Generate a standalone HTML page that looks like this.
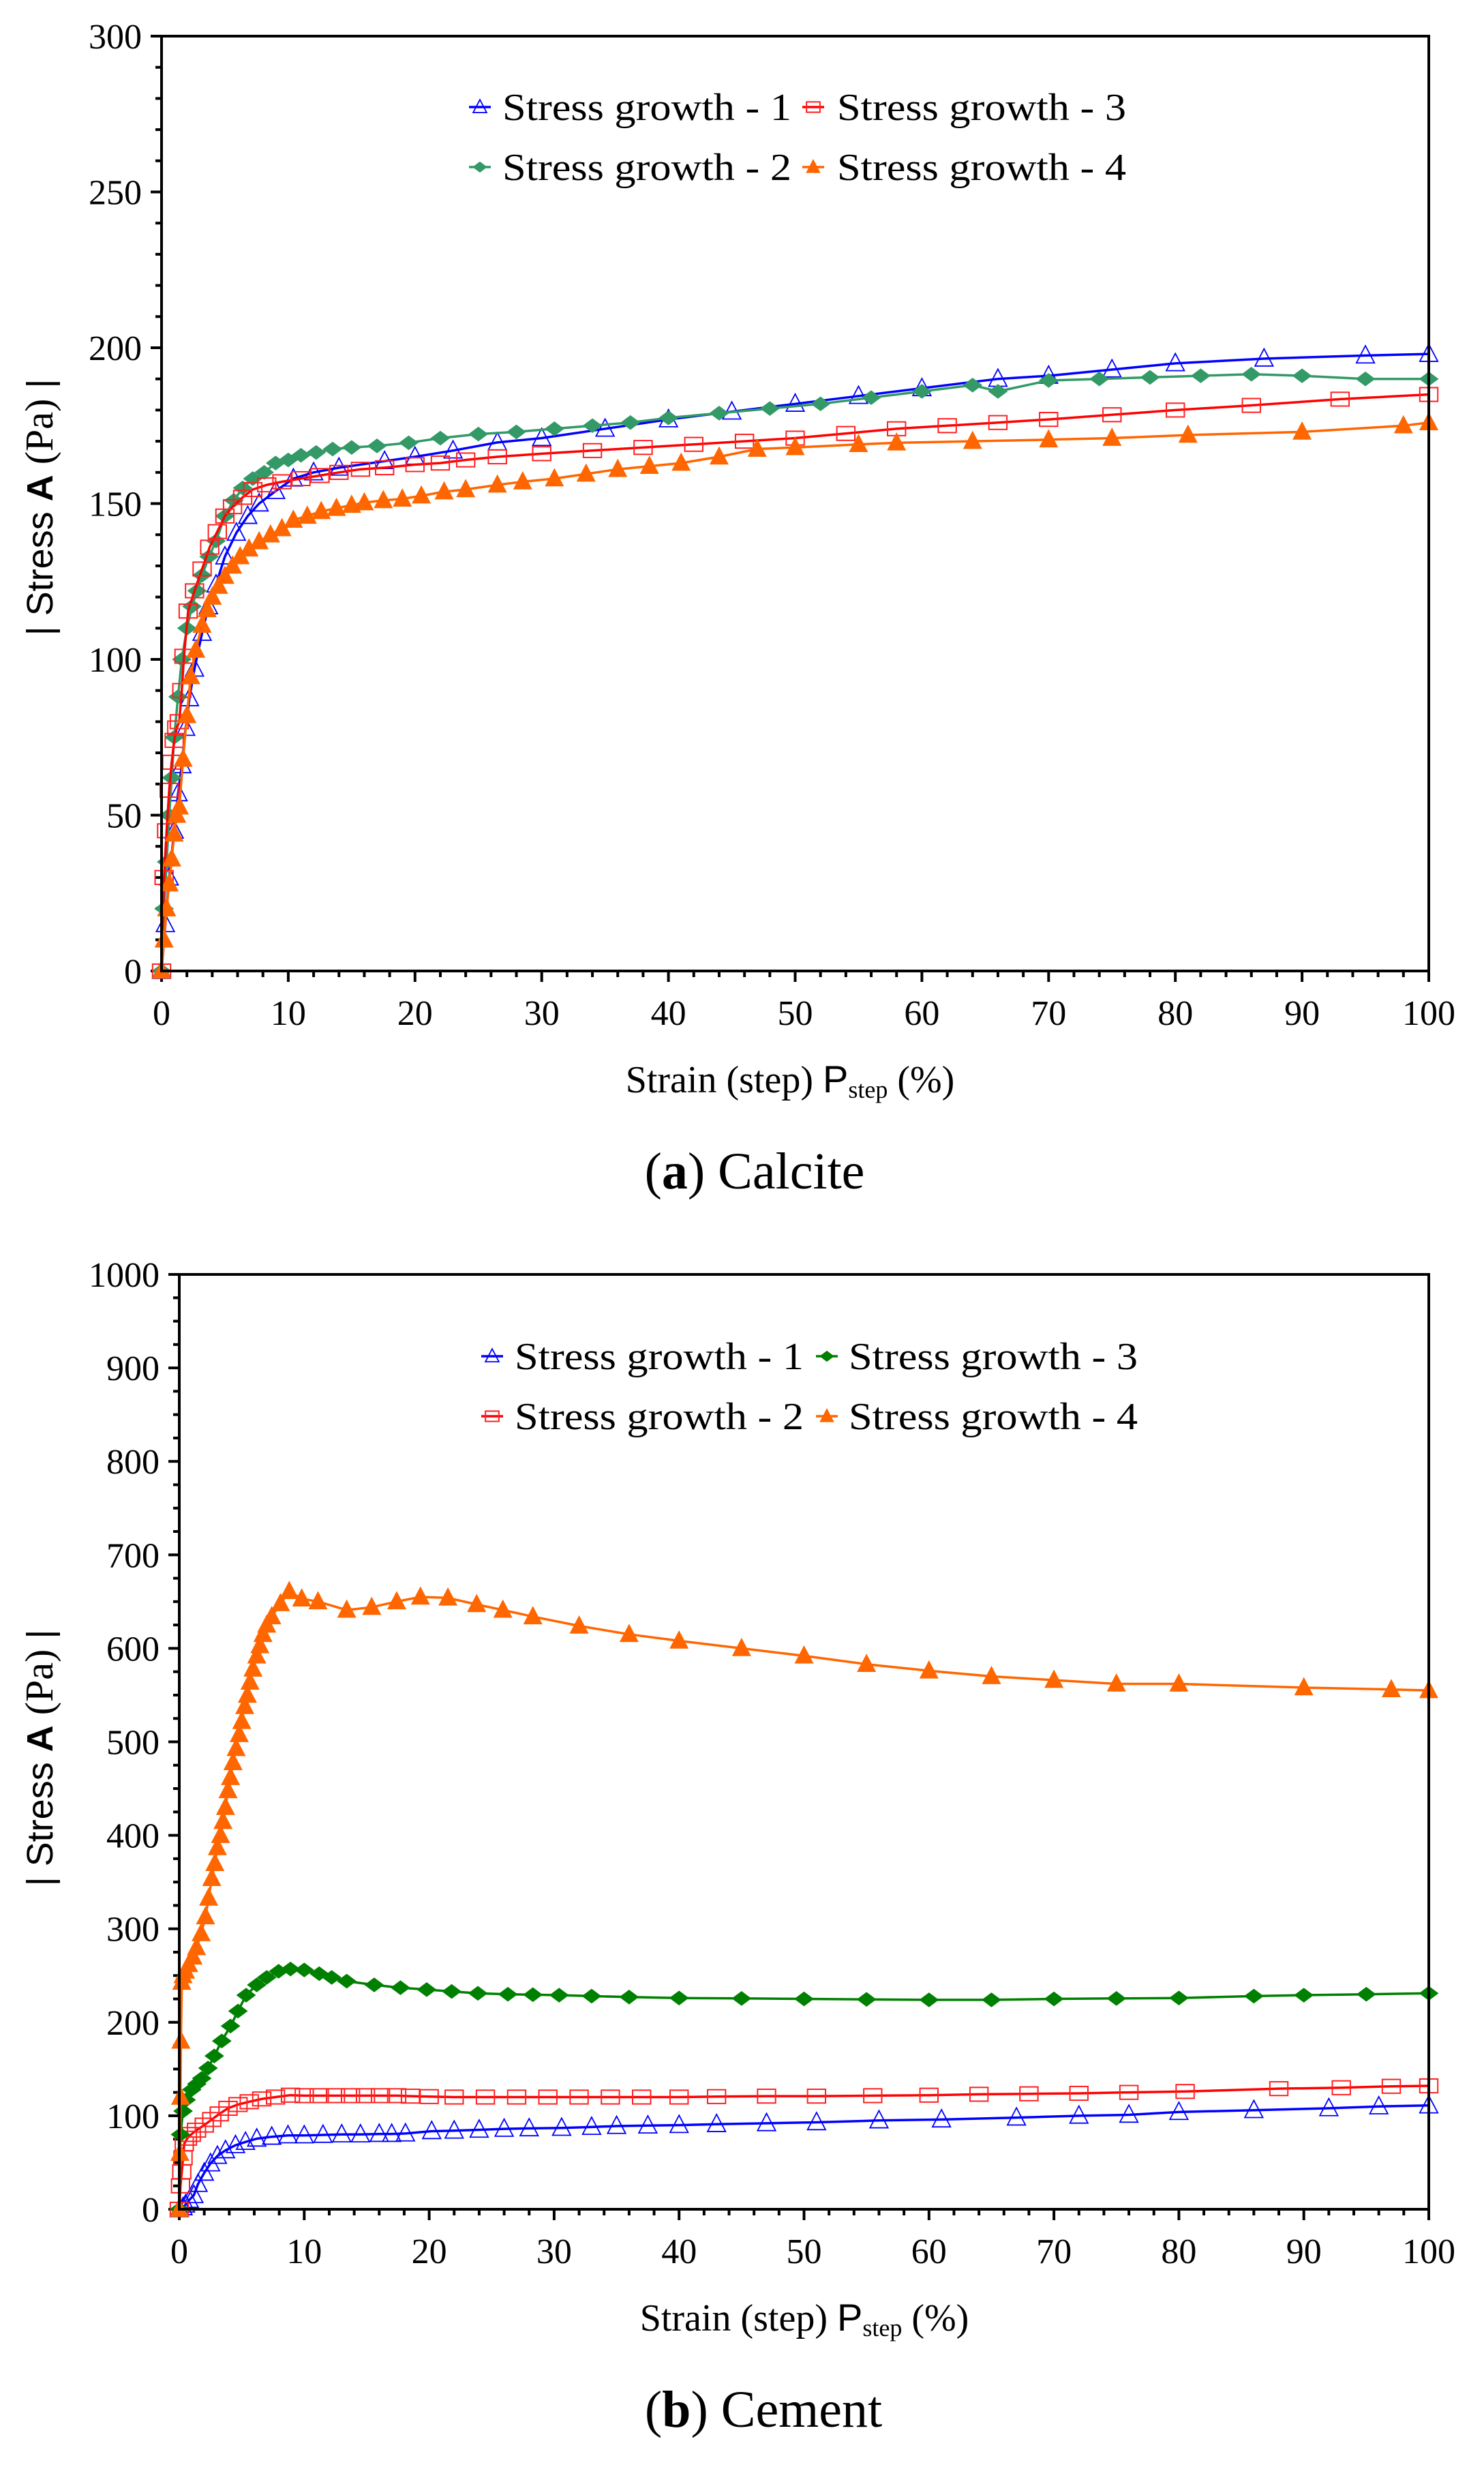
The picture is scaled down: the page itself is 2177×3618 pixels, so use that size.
<!DOCTYPE html>
<html><head><meta charset="utf-8"><style>
html,body{margin:0;padding:0;background:#fff;}
svg{display:block;}
.tk{font-family:"Liberation Serif",serif;font-size:52px;fill:#000;}
.lg{font-family:"Liberation Serif",serif;font-size:56px;fill:#000;}
</style></head><body>
<svg id="fig" width="2177" height="3618" viewBox="0 0 2177 3618" xmlns="http://www.w3.org/2000/svg">
<rect width="2177" height="3618" fill="#fff"/>
<g id="chartA"></g>
<g id="chartB"></g>
<text x="1159" y="1602" text-anchor="middle" style="font-family:'Liberation Serif',serif;font-size:56px">Strain (step) <tspan style="font-family:'Liberation Sans',sans-serif">P</tspan><tspan font-size="36" dy="8">step</tspan><tspan dy="-8">  (%)</tspan></text>
<text x="1107" y="1743" text-anchor="middle" style="font-family:'Liberation Serif',serif;font-size:76px">(<tspan font-weight="bold">a</tspan>) Calcite</text>
<text transform="translate(77,744) rotate(-90)" text-anchor="middle" style="font-family:'Liberation Sans',sans-serif;font-size:54px">| Stress <tspan font-weight="bold">A</tspan>  <tspan style="font-family:'Liberation Serif',serif;font-size:58px">(Pa)</tspan> |</text>
<text x="1180" y="3418" text-anchor="middle" style="font-family:'Liberation Serif',serif;font-size:56px">Strain (step) <tspan style="font-family:'Liberation Sans',sans-serif">P</tspan><tspan font-size="36" dy="8">step</tspan><tspan dy="-8">  (%)</tspan></text>
<text x="1120" y="3559" text-anchor="middle" style="font-family:'Liberation Serif',serif;font-size:76px">(<tspan font-weight="bold">b</tspan>) Cement</text>
<text transform="translate(77,2578) rotate(-90)" text-anchor="middle" style="font-family:'Liberation Sans',sans-serif;font-size:54px">| Stress <tspan font-weight="bold">A</tspan>  <tspan style="font-family:'Liberation Serif',serif;font-size:58px">(Pa)</tspan> |</text>
</svg>
<script>
// ---- Calcite (a) data ----
const a1x=[0,0.3,0.6,1.0,1.3,1.6,1.9,2.2,2.6,3.2,3.7,4.3,5.0,5.9,6.8,7.7,9.0,10.4,12,14,17.6,20,23,26.5,30,35,40,45,50,55,60,66,70,75,80,87,95,100];
const a1y=[0,15,30,45,57,66,78,87.5,97,108.5,117,124,133,140.6,146,150,154,158,160,161.5,163.6,165,167,169.6,171,174,177,179.5,182,184.5,187,190,191,193,195,196.5,197.5,198];
const a2x=[0,0.2,0.4,0.6,0.8,1.0,1.3,1.6,2.0,2.4,2.8,3.2,3.75,4.3,5.0,5.7,6.4,7.2,8.1,9,10,11,12.2,13.5,15,17,19.5,22,25,28,31,34,37,40,44,48,52,56,60,64,66,70,74,78,82,86,90,95,100];
const a2y=[0,20,35,50,62,75,88,100,110,117,122,127,133,138,146,151,155,158,160,163,164,165.5,166.4,167.5,168,168.5,169.5,171,172.3,173,174,175,176,177.5,179,180.5,182,184,186,188,186,189.5,190,190.5,191,191.5,191,190,190];
const a3x=[0,0.2,0.4,0.6,0.8,1.0,1.2,1.4,1.6,1.77,2.1,2.6,3.2,3.8,4.4,5.0,5.6,6.4,7.2,8.3,9.5,11,12.5,14,15.7,17.6,20,22,24,26.5,30,34,38,42,46,50,54,58,62,66,70,75,80,86,93,100];
const a3y=[0,30,45,58,67,74,78,80,90,101,115.5,122,129,136,141,146,149,152,154.5,156,157,158,159,160,161,161.5,162.5,163,164,165,166,167,168,169,170,171,172.5,174,175,176,177,178.5,180,181.5,183.5,185];
const a4x=[0,0.2,0.4,0.6,0.8,1.0,1.2,1.4,1.7,2.0,2.3,2.7,3.2,3.6,4.0,4.5,5.0,5.6,6.2,6.9,7.7,8.6,9.5,10.4,11.5,12.6,13.8,15,16,17.5,19,20.5,22.3,24,26.5,28.5,31,33.5,36,38.5,41,44,47,50,55,58,64,70,75,81,90,98,100];
const a4y=[0,10,20,28,36,44,50,52.7,68,82,94.5,103,111,116,120,123.5,126.7,130,133,135.5,137.8,140,142,144.7,146,147.5,148.5,149.5,150.3,151,151.5,152.5,153.8,154.5,156,157,158,159.5,161,162,163,165,167.5,168,169,169.5,170,170.5,171,172,173,175,176];
// ---- Cement (b) data ----
const b1x=[0,0.3,0.5,0.8,1.17,1.5,2.0,2.5,3.05,3.7,4.5,5.3,6.2,7.4,8.7,10,11.5,13,14.5,16,17,18.1,20.2,22,24,26,28,30.6,33,35,37.5,40,43,47,51,56,61,67,72,76,80,86,92,96,100];
const b1y=[0,2,5,10,15,27,39,49,57,63,68.5,72,75.5,77.5,79,79,79.5,80,80,80.5,80.5,81,83.5,84,85,86,86.5,87,88,89,89.5,90,91,92,93,95,96,98,100,101,104,106,108,110,111];
const b2x=[0,0.1,0.2,0.3,0.4,0.65,0.96,1.38,2.0,2.6,3.2,3.9,4.7,5.6,6.6,7.7,8.9,10,11.2,12.5,13.7,14.9,16.1,17.4,18.5,20,22,24.5,27,29.5,32,34.5,37,40,43,47,51,55.5,60,64,68,72,76,80.5,88,93,97,100];
const b2y=[0,25,40,55,70,76,80,84.6,90,96,102,108,112,115,118,120,122,121.5,121.5,121.5,121.5,121.5,121.5,121.5,121,120.5,120,120,120,120,120,120,120,120,120.5,121,121,121.5,122,123,123.5,124,125,126,129,130,131.5,132];
const b3x=[0,0.1,0.3,0.55,1.0,1.4,1.8,2.3,2.8,3.4,4.1,4.7,5.35,6.2,7.0,7.95,8.9,10,11.2,12.2,13.4,15.6,17.7,19.8,21.8,23.9,26.3,28.3,30.4,33,36,40,45,50,55,60,65,70,75,80,86,90,95,100];
const b3y=[0,80,105,117,128,134,140,151,164,180,196,212,229,240,248,254.6,257,256,252,248,244,240,237,235,233,231,230,229.5,229,228,227,226,225.5,225,224.5,224,224,225,225.5,226,228,229,230,231];
const b4x=[0,0.05,0.1,0.13,0.2,0.3,0.5,0.75,1.1,1.38,1.75,2.1,2.35,2.6,2.85,3.05,3.3,3.5,3.7,3.9,4.1,4.3,4.55,4.8,5.0,5.24,5.45,5.66,5.9,6.2,6.45,6.7,7.0,7.4,8.1,8.8,9.8,11.1,13.4,15.4,17.4,19.3,21.5,23.8,25.9,28.3,32,36,40,45,50,55,60,65,70,75,80,90,97,100];
const b4y=[0,60,120,180,243,250,255,262,270,280,295,313,333,354,370,387,400,415,430,448,462,478,493,508,522,538,550,564,578,592,603,615,625,634,648,661,653,650,641,644,650,655,654,647,641,634,624,615,608,600,592,583,576,570,566,562,562,558,556,555];
// ---- Axis tick labels ----
const xTicks=[0,10,20,30,40,50,60,70,80,90,100];
const yTicksA=[0,50,100,150,200,250,300];
const yTicksB=[0,100,200,300,400,500,600,700,800,900,1000];
const legendA=["Stress growth - 1","Stress growth - 2","Stress growth - 3","Stress growth - 4"];
const legendB=["Stress growth - 1","Stress growth - 2","Stress growth - 3","Stress growth - 4"];

const NS="http://www.w3.org/2000/svg";
function mk(parent,tag,attrs){const e=document.createElementNS(NS,tag);for(const k in attrs)e.setAttribute(k,attrs[k]);parent.appendChild(e);return e;}

function marker(g,type,cx,cy,color,s){
  let e;
  if(type==='tri-open'||type==='tri-fill'){
    e=mk(g,'polygon',{points:`${cx},${cy-s*0.6} ${cx-s*0.55},${cy+s*0.45} ${cx+s*0.55},${cy+s*0.45}`,fill:type==='tri-fill'?color:'none',stroke:color,'stroke-width':type==='tri-fill'?1:1.8});
  }else if(type==='sq-open'){
    e=mk(g,'rect',{x:cx-s*0.55,y:cy-s*0.42,width:s*1.1,height:s*0.84,fill:'none',stroke:color,'stroke-width':2});
  }else{
    e=mk(g,'polygon',{points:`${cx},${cy-s*0.45} ${cx+s*0.6},${cy} ${cx},${cy+s*0.45} ${cx-s*0.6},${cy}`,fill:color});
  }
  return e;
}

function chart(gid,cfg){
  const g=document.getElementById(gid);
  const X=v=>cfg.L+(v-0)/(100)*(cfg.R-cfg.L);
  const Y=v=>cfg.B-(v/cfg.ymax)*(cfg.B-cfg.T);
  for(let v=0;v<=cfg.ymax+1e-9;v+=cfg.ymin){
    const major=Math.abs(v/cfg.ystep-Math.round(v/cfg.ystep))<1e-6;
    const t=mk(g,'line',{x1:cfg.L-(major?16:9),x2:cfg.L,y1:Y(v),y2:Y(v),stroke:'#000','stroke-width':4});
    
    
  }
  for(let v=0;v<=100;v+=2){
    const major=v%10===0;
    const t=mk(g,'line',{x1:X(v),x2:X(v),y1:cfg.B,y2:cfg.B+(major?16:9),stroke:'#000','stroke-width':4});
    
    
  }
  cfg.yt.forEach(v=>{
    const t=mk(g,'text',{x:cfg.L-29,y:Y(v)+18,'text-anchor':'end',class:'tk'});t.textContent=v;
    
    
  });
  xTicks.forEach(v=>{
    const t=mk(g,'text',{x:X(v),y:cfg.B+79,'text-anchor':'middle',class:'tk'});t.textContent=v;
    
    
  });
  cfg.series.forEach((s,i)=>{
    const sg=mk(g,'g',{});
    
    
    const pts=s.x.map((v,j)=>X(v).toFixed(1)+','+Y(s.y[j]).toFixed(1)).join(' ');
    const pl=mk(sg,'polyline',{points:pts,fill:'none',stroke:s.color,'stroke-width':s.lw||3.5,'stroke-linejoin':'round'});
    
    
    s.x.forEach((v,j)=>{
      const m=marker(sg,s.type,X(v),Y(s.y[j]),s.mcolor||s.color,s.size||24);
      
      
    });
  });
  const fr=mk(g,'polyline',{points:`${cfg.L},${cfg.T} ${cfg.L},${cfg.B} ${cfg.R},${cfg.B}`,fill:'none',stroke:'#000','stroke-width':4});
  
  
  const fr2=mk(g,'polyline',{points:`${cfg.L-16},${cfg.T} ${cfg.R},${cfg.T} ${cfg.R},${cfg.B+16}`,fill:'none',stroke:'#000','stroke-width':4});
  
  
  cfg.legend.forEach((it,k)=>{
    const lg=mk(g,'g',{});
    
    
    const s=cfg.series[it.si];
    mk(lg,'line',{x1:it.mx-16,x2:it.mx+16,y1:it.y,y2:it.y,stroke:s.color,'stroke-width':3.5});
    marker(lg,s.type,it.mx,it.y,s.mcolor||s.color,18);
    const t=mk(lg,'text',{x:it.tx,y:it.y+19,class:'lg',textLength:424,lengthAdjust:'spacingAndGlyphs'});
    t.textContent=it.label;
  });
}

chart('chartA',{L:237,R:2096,T:53,B:1424,ymax:300,ystep:50,ymin:10,yt:yTicksA,
  series:[
   {x:a1x,y:a1y,color:'#0000ff',type:'tri-open',lw:3.5},
   {x:a2x,y:a2y,color:'#339966',type:'dia',lw:3.5},
   {x:a3x,y:a3y,color:'#ff0000',mcolor:'#ff2020',type:'sq-open',lw:3.5},
   {x:a4x,y:a4y,color:'#ff6600',type:'tri-fill',lw:3.5}],
  legend:[
   {si:0,mx:704,tx:737,y:157,label:legendA[0]},
   {si:1,mx:704,tx:737,y:245,label:legendA[1]},
   {si:2,mx:1193,tx:1228,y:157,label:legendA[2]},
   {si:3,mx:1193,tx:1228,y:245,label:legendA[3]}]});

chart('chartB',{L:263,R:2096,T:1869,B:3240,ymax:1000,ystep:100,ymin:25,yt:yTicksB,
  series:[
   {x:b1x,y:b1y,color:'#0000ff',type:'tri-open',lw:3.5},
   {x:b2x,y:b2y,color:'#ff0000',mcolor:'#ff2020',type:'sq-open',lw:3.5},
   {x:b3x,y:b3y,color:'#008000',type:'dia',lw:3.5},
   {x:b4x,y:b4y,color:'#ff6600',type:'tri-fill',lw:3.5}],
  legend:[
   {si:0,mx:722,tx:755,y:1989,label:legendB[0]},
   {si:1,mx:722,tx:755,y:2077,label:legendB[1]},
   {si:2,mx:1213,tx:1245,y:1989,label:legendB[2]},
   {si:3,mx:1213,tx:1245,y:2077,label:legendB[3]}]});
</script>
</body></html>
